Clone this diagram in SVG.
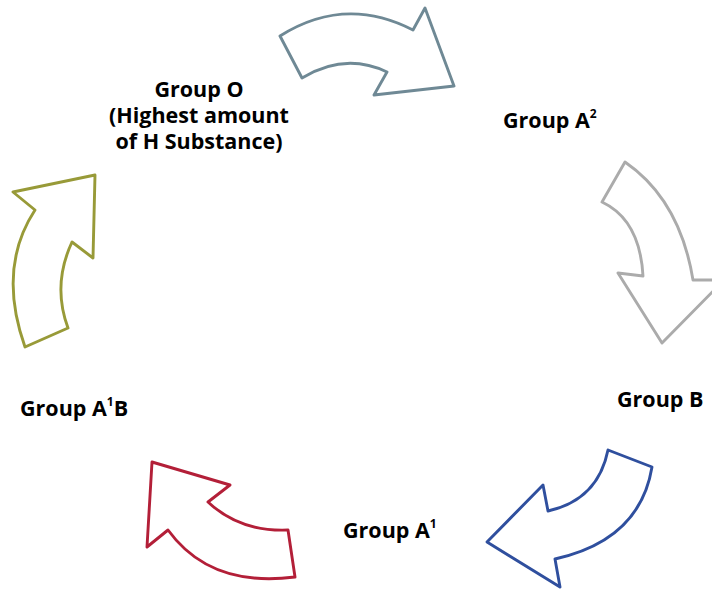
<svg xmlns="http://www.w3.org/2000/svg" width="712" height="589" viewBox="0 0 712 589">
<style>
.arrow{fill:#ffffff;stroke-width:2.9;stroke-linejoin:round;stroke-linecap:round}
.lbl{font-family:"Open Sans","Noto Sans","Liberation Sans",sans-serif;font-weight:bold;font-size:21.5px;fill:#000000}
.sup{font-size:12px}
</style>
<rect width="712" height="589" fill="#ffffff"/>
<g id="connectors">
<path id="arrow-top" class="arrow" stroke="#6f8995" d="M 280,36 Q 345,-5 413,30 L 425,8 L 454,86 L 374,95 L 387,72 Q 345,52 302,78 Z"/>
<path id="arrow-right" class="arrow" stroke="#ababab" d="M 625,162 Q 680,200 693,280 L 724,280 L 662,343 L 618,273 L 643,276 Q 640,220 602,202 Z"/>
<path id="arrow-bottom-right" class="arrow" stroke="#2f4f9e" d="M 608,450 L 652,467 Q 640,540 555,559 L 560,587 L 487,542 L 543,485 L 548,511 Q 598,500 608,450 Z"/>
<path id="arrow-bottom-left" class="arrow" stroke="#b31f38" d="M 152,462 L 230,485 L 208,502 Q 240,532 288,530 L 295,577 Q 210,588 168,530 L 147,547 Z"/>
<path id="arrow-left" class="arrow" stroke="#989a38" d="M 95,175 L 93,258 L 72,242 Q 52,285 68,328 L 25,347 Q -3,268 35,210 L 13,192 Z"/>
</g>
<g id="node-group-o">
<text class="lbl" text-anchor="middle"><tspan x="199" y="97">Group O</tspan><tspan x="199" y="123">(Highest amount</tspan><tspan x="199" y="149">of H Substance)</tspan></text>
</g>
<g id="node-group-a2">
<text class="lbl" x="503" y="128">Group A<tspan class="sup" dy="-10">2</tspan></text>
</g>
<g id="node-group-b">
<text class="lbl" x="617" y="407">Group B</text>
</g>
<g id="node-group-a1">
<text class="lbl" x="343" y="538">Group A<tspan class="sup" dy="-10">1</tspan></text>
</g>
<g id="node-group-a1b">
<text class="lbl" x="20" y="416">Group A<tspan class="sup" dy="-10">1</tspan><tspan dy="10">B</tspan></text>
</g>
</svg>
